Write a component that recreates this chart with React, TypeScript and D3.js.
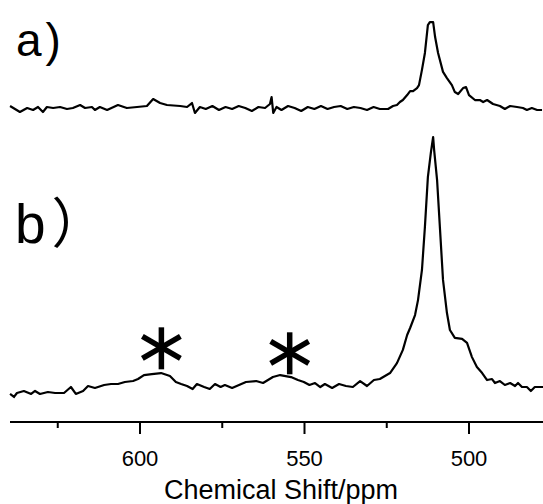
import React from "react";
import * as d3 from "d3";

// Spectrum a)
const ppmA = [639.5,636.5,634.3,632.5,631.0,629.5,628.3,626.4,624.3,622.2,620.4,618.2,616.7,614.6,613.7,612.2,610.0,606.7,604.0,600.9,597.9,596.0,593.9,591.8,587.8,585.7,584.2,583.3,581.8,580,578,576,574,572,570,568,566,564,562,560.5,560,559.5,558.5,557,555,553,551,549,547,545,543,541,539,537,535,533,531,529,527.1,524.6,523.1,521.9,521.0,520.1,518.8,517.9,517.0,515.8,515.2,514.3,513.4,512.5,511.9,510.9,510.3,509.4,507.9,506.7,505.2,504.3,503.3,501.8,500.9,500.0,498.2,496.7,495.7,494.5,492.7,490.6,489.1,487.5,485.4,483.6,482.4,480.9,479.3,477.8];
const intA = [0.8,-1.6,0,-0.8,0.4,-1.6,0.4,0,0.4,-0.4,0,1.2,0,0.4,-0.8,0.4,-0.8,1.2,0,0.4,0.8,3.6,2.0,1.2,0.8,0.4,2.0,-2.0,0.4,-0.4,0.8,-0.8,0.4,-0.4,0.8,0,-1.2,0.4,0,1.6,4.4,-2.0,0.4,-0.8,0.8,0,-1.2,0.4,-0.4,0.8,-0.4,0.4,0.8,-0.4,0.4,0,-0.8,0.4,-0.4,-0.4,0.8,1.2,2.4,3.2,5.2,6.8,6.8,8.0,9.2,15.3,22.1,33.3,34.5,34.5,28.5,22.1,14.5,12.0,9.2,6.4,5.6,8.0,8.4,5.2,3.2,3.2,2.4,3.2,1.6,0.8,-0.4,0.8,0.4,0,-0.8,0,-0.8,-0.8];

// Spectrum b)
const ppmB = [639.5,638.3,637.4,635.3,633.1,631.9,630.4,628.0,625.8,623.1,621.0,619.5,617.3,615.8,613.7,610.9,608.8,606.7,604.6,602.1,600.6,598.8,596.4,593.6,590.9,589.1,587.5,585.7,584.0,582.7,580.5,578.8,577.2,575.5,574.2,572.0,569.9,567.8,564.7,562.6,559.6,557.4,554.1,552.0,550.2,548.5,546.8,545.2,543.8,541.6,539.5,537.4,535.3,533.1,531.0,528.9,527.1,524.0,521.9,520.1,518.8,517.9,516.4,515.5,514.3,513.4,512.5,511.6,510.9,510.6,509.7,508.8,507.9,506.7,505.8,504.3,502.1,500.6,499.1,497.6,496.0,494.5,493.0,492.1,490.6,489.1,487.5,486.0,485.1,483.9,482.4,481.2,480.0,477.5];
const intB = [-2.4,-3.6,-2.0,-1.2,-2.4,-1.2,-2.4,-1.6,-2.0,-2.0,0.4,-2.4,-1.2,0.8,0,1.2,1.6,1.6,2.4,2.8,3.6,5.2,5.6,6.0,4.8,2.4,1.6,0.8,-0.4,1.6,0.4,-0.4,1.6,0.4,1.2,0.0,1.2,2.4,2.8,2.0,4.4,5.2,4.4,3.2,2.4,1.2,2.0,0.4,1.6,0,1.6,0.8,0.4,2.8,0.8,3.2,3.6,6.0,10.0,15.3,21.3,24.1,29.3,35.3,47.4,64.7,84.7,94.4,100.8,95.6,83.5,63.5,43.4,30.1,23.3,20.1,19.7,18.1,12.4,8.4,6.0,3.2,3.6,2.0,2.8,1.2,2.0,0.8,2.0,0.4,0.4,-1.2,0.4,0.4];

const majorTicks = [600, 550, 500];
const minorTicks = [625, 575, 525];
const asteriskPpm = [593.5, 554.5];
const asteriskLevel = [7.5, 5.5];
const panelLabels = ["a)", "b）"];
const xTitle = "Chemical Shift/ppm";

export default function App() {
  const W = 543, H = 504;
  const x = d3.scaleLinear().domain([600, 500]).range([140, 469]);
  const yA = d3.scaleLinear().domain([0, 100]).range([108, -141]);
  const yB = d3.scaleLinear().domain([0, 100]).range([388, 139]);
  const axisY = 422;

  const lineA = d3.line<number>().x((_, i) => x(ppmA[i])).y((d) => yA(d)).curve(d3.curveLinear);
  const lineB = d3.line<number>().x((_, i) => x(ppmB[i])).y((d) => yB(d)).curve(d3.curveLinear);

  const font = "'Liberation Sans', Arial, sans-serif";

  return (
    <svg width={W} height={H} style={{ position: "absolute", left: 0, top: 0, display: "block", background: "#fff" }}>
      <rect x={0} y={0} width={W} height={H} fill="#fff" />
      <path d={lineA(intA) || ""} fill="none" stroke="#000" strokeWidth={2.2} strokeLinejoin="round" />
      <path d={lineB(intB) || ""} fill="none" stroke="#000" strokeWidth={2.2} strokeLinejoin="round" />

      {/* asterisks */}
      {asteriskPpm.map((p, i) => {
        const cx = x(p);
        const cy = yB(asteriskLevel[i]) - 22;
        return (
          <g key={"ast" + i} transform={`translate(${cx},${cy})`}>
            <line x1={0} y1={-20} x2={0} y2={22} stroke="#000" strokeWidth={5.5} />
            <line x1={-19} y1={-11} x2={19} y2={11} stroke="#000" strokeWidth={5.5} />
            <line x1={-19} y1={11} x2={19} y2={-11} stroke="#000" strokeWidth={5.5} />
          </g>
        );
      })}

      {/* axis */}
      <line x1={10} x2={W} y1={axisY} y2={axisY} stroke="#000" strokeWidth={2} />
      {majorTicks.map((t) => (
        <g key={"M" + t}>
          <line x1={x(t)} x2={x(t)} y1={axisY} y2={axisY + 12} stroke="#000" strokeWidth={2} />
          <text x={x(t)} y={466} textAnchor="middle" fontFamily={font} fontSize={22} fill="#000">{t}</text>
        </g>
      ))}
      {minorTicks.map((t) => (
        <line key={"m" + t} x1={x(t)} x2={x(t)} y1={axisY} y2={axisY + 6} stroke="#000" strokeWidth={2} />
      ))}
      <text x={281} y={499} textAnchor="middle" fontFamily={font} fontSize={27} fill="#000">{xTitle}</text>

      {/* panel labels */}
      <text x={16} y={56} fontFamily={font} fontSize={46} fill="#000">
        {panelLabels[0].slice(0, 1)}
        <tspan dx={4}>{panelLabels[0].slice(1)}</tspan>
      </text>
      <text x={15} y={243} fontFamily={font} fontSize={55} fill="#000">
        {panelLabels[1].slice(0, 1)}
        <tspan dx={6} fontFamily="'Noto Sans CJK SC', sans-serif" fontSize={54}>{panelLabels[1].slice(1)}</tspan>
      </text>
    </svg>
  );
}
